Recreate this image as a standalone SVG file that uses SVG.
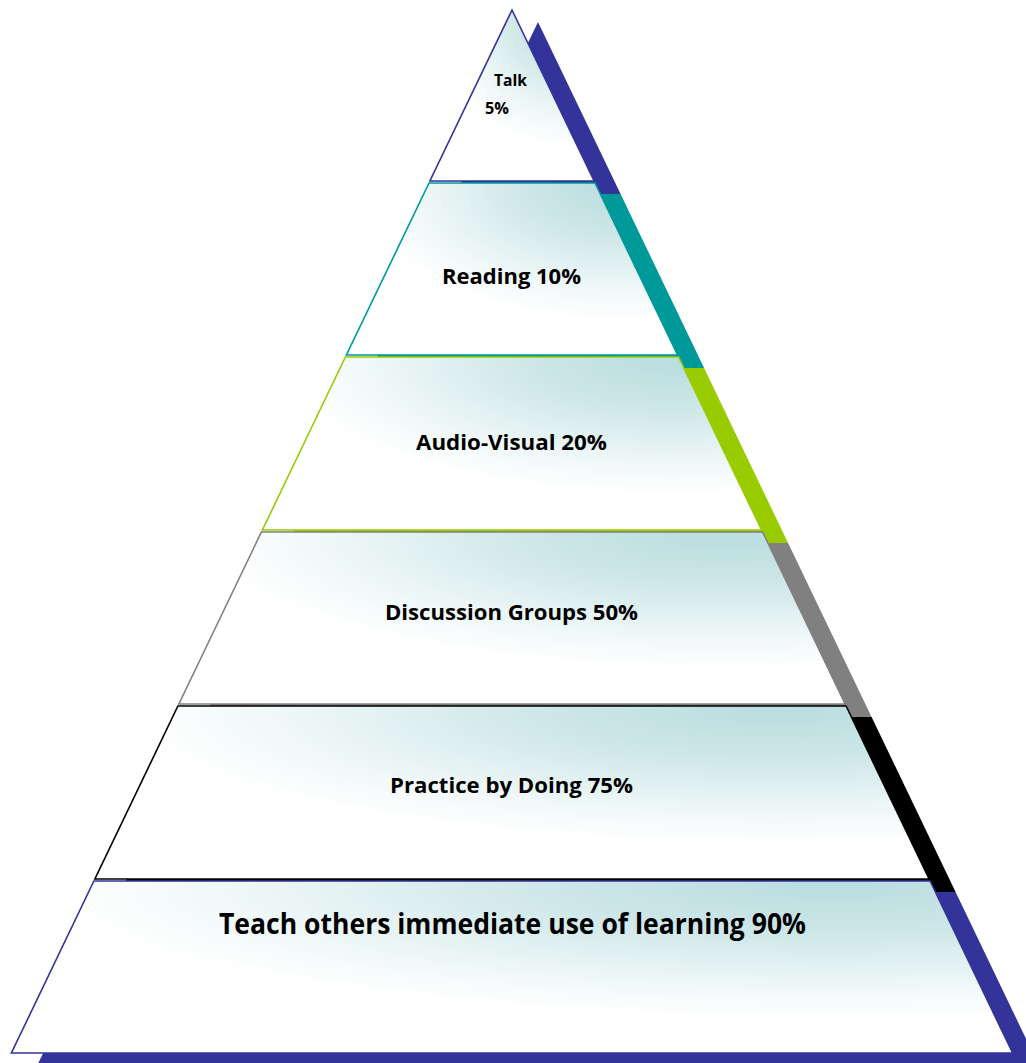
<svg xmlns="http://www.w3.org/2000/svg" width="1026" height="1063" viewBox="0 0 1026 1063">
<defs>
<radialGradient id="fillg" cx="0.82" cy="0.02" r="0.78" fx="0.82" fy="0.02">
<stop offset="0" stop-color="#b9dde0"/>
<stop offset="0.35" stop-color="#cde6e7"/>
<stop offset="0.75" stop-color="#eef7f7"/>
<stop offset="1" stop-color="#ffffff"/>
</radialGradient>
<style>
.band{fill:url(#fillg);stroke-width:1.6;stroke-linejoin:miter}
.lbl{font-family:"Open Sans","Liberation Sans",sans-serif;font-weight:bold;fill:#000;text-anchor:middle}
</style>
</defs>
<rect width="1026" height="1063" fill="#ffffff"/>
<g id="shadows" transform="translate(26,12)">
<polygon points="512,10 594.6,182 429.4,182" fill="#333399"/>
<polygon points="429.4,182 594.6,182 678.1,356 345.9,356" fill="#009999"/>
<polygon points="345.9,356 678.1,356 762.1,531 261.9,531" fill="#99cc00"/>
<polygon points="261.9,531 762.1,531 845.6,705 178.4,705" fill="#808080"/>
<polygon points="178.4,705 845.6,705 929.6,880 94.4,880" fill="#000000"/>
<polygon points="94.4,880 929.6,880 1012.6,1053 11.4,1053" fill="#333399"/>
</g>
<g id="talk">
<polygon class="band" points="512,10 594.1,181 429.9,181" stroke="#333399"/>
<text class="lbl" x="510.5" y="86" font-size="16" textLength="33" lengthAdjust="spacingAndGlyphs">Talk</text>
<text class="lbl" x="497" y="114" font-size="16" textLength="24" lengthAdjust="spacingAndGlyphs">5%</text>
</g>
<g id="reading">
<polygon class="band" points="429,183 595,183 677.6,355 346.4,355" stroke="#009999"/>
<text class="lbl" x="511.5" y="284" font-size="21" textLength="139" lengthAdjust="spacingAndGlyphs">Reading 10%</text>
</g>
<g id="audio-visual">
<polygon class="band" points="345.4,357 678.6,357 761.6,530 262.4,530" stroke="#99cc00"/>
<text class="lbl" x="511.5" y="450" font-size="21" textLength="191" lengthAdjust="spacingAndGlyphs">Audio-Visual 20%</text>
</g>
<g id="discussion">
<polygon class="band" points="261.4,532 762.6,532 845.1,704 178.9,704" stroke="#808080"/>
<text class="lbl" x="511.5" y="620" font-size="21" textLength="253" lengthAdjust="spacingAndGlyphs">Discussion Groups 50%</text>
</g>
<g id="practice">
<polygon class="band" points="177.9,706 846.1,706 929.1,879 94.9,879" stroke="#000000"/>
<text class="lbl" x="511.5" y="793" font-size="21" textLength="243" lengthAdjust="spacingAndGlyphs">Practice by Doing 75%</text>
</g>
<g id="teach">
<polygon class="band" points="93.9,881 930.1,881 1012.6,1053 11.4,1053" stroke="#333399"/>
<text class="lbl" x="512.5" y="934" font-size="28" textLength="587" lengthAdjust="spacingAndGlyphs">Teach others immediate use of learning 90%</text>
</g>
<g id="connectors"/>
</svg>
